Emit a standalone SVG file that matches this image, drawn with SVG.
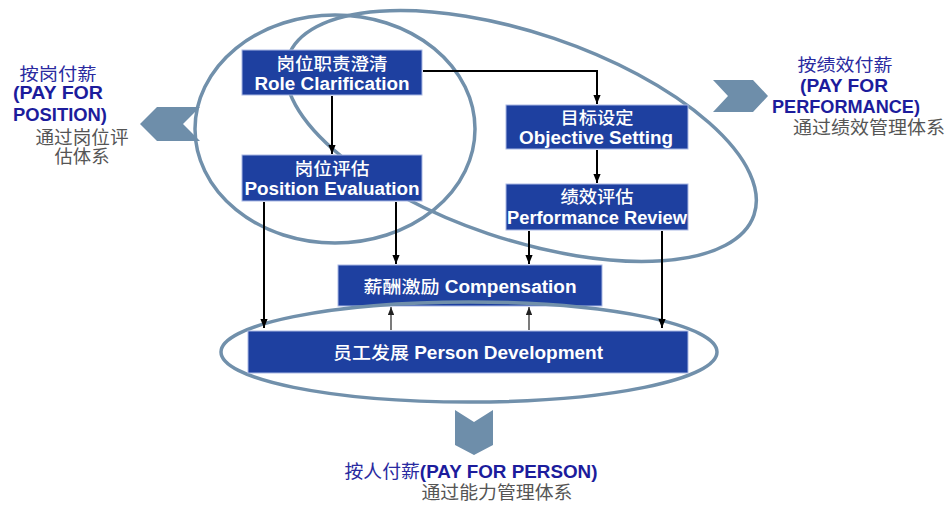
<svg xmlns="http://www.w3.org/2000/svg" width="946" height="505" viewBox="0 0 946 505">
<style>
.box{fill:#1e40a0;stroke:#a9b8e4;stroke-width:1}
.bt{font-family:"Liberation Sans","Noto Sans CJK SC",sans-serif;font-weight:bold;font-size:17.5px;fill:#fff;text-anchor:middle}
.cn{font-weight:500}
.ring{fill:none;stroke:#7190ab;stroke-width:3.5}
.chev{fill:#6e8eaa}
.ttl{font-family:"Liberation Sans","Noto Sans CJK SC",sans-serif;font-weight:bold;font-size:18px;fill:#1c1c9c;text-anchor:middle}
.ttc{font-family:"Liberation Sans","Noto Sans CJK SC",sans-serif;font-size:17px;fill:#2a2aa0;text-anchor:middle}
.sub{font-family:"Liberation Sans","Noto Sans CJK SC",sans-serif;font-size:18px;fill:#555;text-anchor:middle}
.ln{fill:none;stroke:#000;stroke-width:2}
.thin{fill:none;stroke:#333;stroke-width:1.3}
</style>
<defs>
<marker id="ah" viewBox="0 0 10 8" refX="10" refY="4" markerWidth="9" markerHeight="7.2" markerUnits="userSpaceOnUse" orient="auto"><path d="M0,0 L10,4 L0,8 z" fill="#000"/></marker>
<marker id="ahs" viewBox="0 0 10 8" refX="10" refY="4" markerWidth="8" markerHeight="6.4" markerUnits="userSpaceOnUse" orient="auto"><path d="M0,0 L10,4 L0,8 z" fill="#222"/></marker>
</defs>
<rect width="946" height="505" fill="#fff"/>

<g id="ring-position"><ellipse class="ring" cx="335" cy="129" rx="140" ry="114"/></g>
<g id="ring-performance"><ellipse class="ring" cx="521" cy="136" rx="246" ry="103" transform="rotate(18.7 521 136)"/></g>

<g id="compensation"><rect class="box" x="338" y="265" width="264" height="41"/><text class="bt" x="470" y="293" textLength="213" lengthAdjust="spacingAndGlyphs"><tspan class="cn">薪酬激励</tspan> Compensation</text></g>

<g id="ring-person"><ellipse class="ring" cx="469" cy="352" rx="248" ry="50"/></g>

<g id="role-clarification"><rect class="box" x="242" y="50" width="180" height="45"/><text class="bt cn" x="332" y="70" textLength="111" lengthAdjust="spacingAndGlyphs">岗位职责澄清</text><text class="bt" x="332" y="90" textLength="155" lengthAdjust="spacingAndGlyphs">Role Clarification</text></g>
<g id="position-evaluation"><rect class="box" x="242" y="155" width="180" height="46"/><text class="bt cn" x="332" y="175" textLength="75" lengthAdjust="spacingAndGlyphs">岗位评估</text><text class="bt" x="332" y="195" textLength="175" lengthAdjust="spacingAndGlyphs">Position Evaluation</text></g>
<g id="objective-setting"><rect class="box" x="506" y="105" width="182" height="44"/><text class="bt cn" x="597" y="124" textLength="73" lengthAdjust="spacingAndGlyphs">目标设定</text><text class="bt" x="596" y="144" textLength="154" lengthAdjust="spacingAndGlyphs">Objective Setting</text></g>
<g id="performance-review"><rect class="box" x="506" y="184" width="182" height="46"/><text class="bt cn" x="597" y="203" textLength="73" lengthAdjust="spacingAndGlyphs">绩效评估</text><text class="bt" x="597" y="224" textLength="180" lengthAdjust="spacingAndGlyphs">Performance Review</text></g>
<g id="person-development"><rect class="box" x="248" y="331" width="440" height="42"/><text class="bt" x="468" y="359" textLength="270" lengthAdjust="spacingAndGlyphs"><tspan class="cn">员工发展</tspan> Person Development</text></g>

<g id="connectors">
<path class="ln" d="M423,71 H597 V104" marker-end="url(#ah)"/>
<path class="ln" d="M332,96 V154" marker-end="url(#ah)"/>
<path class="ln" d="M597,150 V183" marker-end="url(#ah)"/>
<path class="ln" d="M264,202 V328" marker-end="url(#ah)"/>
<path class="ln" d="M396,202 V264" marker-end="url(#ah)"/>
<path class="ln" d="M529,231 V264" marker-end="url(#ah)"/>
<path class="ln" d="M662,231 V328" marker-end="url(#ah)"/>
<path class="thin" d="M391,330 V307" marker-end="url(#ahs)"/>
<path class="thin" d="M529,330 V307" marker-end="url(#ahs)"/>
</g>

<g id="pay-for-position">
<polygon class="chev" points="140,124 157,107 200,107 183,124 200,141 157,141"/>
<text class="ttc" x="58" y="80" textLength="77" lengthAdjust="spacingAndGlyphs">按岗付薪</text>
<text class="ttl" x="58" y="99" textLength="90" lengthAdjust="spacingAndGlyphs">(PAY FOR</text>
<text class="ttl" x="60" y="121" textLength="94" lengthAdjust="spacingAndGlyphs">POSITION)</text>
<text class="sub" x="82" y="144" textLength="93" lengthAdjust="spacingAndGlyphs">通过岗位评</text>
<text class="sub" x="82" y="163" textLength="55" lengthAdjust="spacingAndGlyphs">估体系</text>
</g>
<g id="pay-for-performance">
<polygon class="chev" points="713,80 753,80 768,96 753,112 713,112 728,96"/>
<text class="ttc" x="845" y="71" textLength="95" lengthAdjust="spacingAndGlyphs">按绩效付薪</text>
<text class="ttl" x="844" y="92" textLength="88" lengthAdjust="spacingAndGlyphs">(PAY FOR</text>
<text class="ttl" x="846" y="113" textLength="148" lengthAdjust="spacingAndGlyphs">PERFORMANCE)</text>
<text class="sub" x="869" y="134" textLength="152" lengthAdjust="spacingAndGlyphs">通过绩效管理体系</text>
</g>
<g id="pay-for-person">
<polygon class="chev" points="455,410 474,422 493,410 493,445 474,455 455,445"/>
<text class="ttl" x="471" y="478" textLength="253" lengthAdjust="spacingAndGlyphs"><tspan fill="#2a2aa0" font-weight="normal">按人付薪</tspan>(PAY FOR PERSON)</text>
<text class="sub" x="497" y="499" textLength="151" lengthAdjust="spacingAndGlyphs">通过能力管理体系</text>
</g>
</svg>
